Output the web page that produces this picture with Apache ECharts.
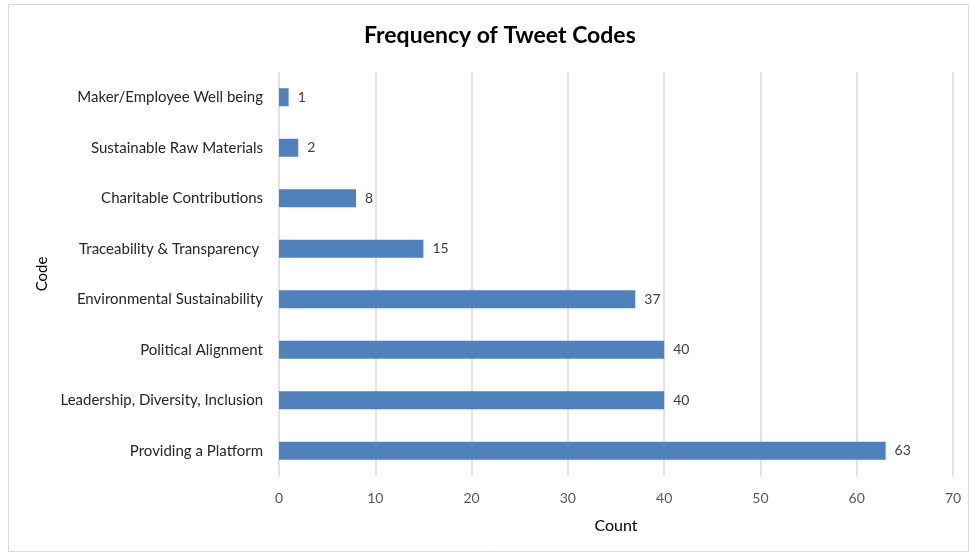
<!DOCTYPE html>
<html>
<head>
<meta charset="utf-8">
<script src="https://cdn.jsdelivr.net/npm/echarts@6/dist/echarts.min.js"></script>
<style>
  html, body { margin: 0; padding: 0; background: #fff; }
  #chart { width: 971px; height: 554px; }
</style>
</head>
<body>
<div id="chart"></div>
<script>
// Tweet code categories, listed bottom to top as drawn on the category axis
const categories = [
  'Providing a Platform',
  'Leadership, Diversity, Inclusion',
  'Political Alignment',
  'Environmental Sustainability',
  'Traceability & Transparency ',
  'Charitable Contributions',
  'Sustainable Raw Materials',
  'Maker/Employee Well being'
];
const counts = [63, 40, 40, 37, 15, 8, 2, 1];
const countTicks = [0, 10, 20, 30, 40, 50, 60, 70];

const FONT = 'Lato, "Open Sans", sans-serif';
const chart = echarts.init(document.getElementById('chart'));

chart.setOption({
  animation: false,
  title: {
    text: 'Frequency of Tweet Codes',
    left: 359,
    top: 19,
    textStyle: { fontFamily: FONT, fontSize: 23, fontWeight: 'bold', color: '#000' }
  },
  graphic: [{
    type: 'rect',
    shape: { x: 8.5, y: 4.5, width: 960, height: 547 },
    style: { fill: 'none', stroke: '#d9d9d9', lineWidth: 1 },
    silent: true
  }],
  grid: { left: 279, right: 18, top: 72, bottom: 78 },
  xAxis: {
    type: 'value',
    min: countTicks[0],
    max: countTicks[countTicks.length - 1],
    interval: 10,
    name: 'Count',
    nameLocation: 'middle',
    nameGap: 42,
    nameTextStyle: { fontFamily: FONT, fontSize: 16, color: '#000' },
    axisLine: { show: false },
    axisTick: { show: false },
    axisLabel: { fontFamily: FONT, fontSize: 14, color: '#595959', margin: 15 },
    splitLine: { show: true, lineStyle: { color: '#d9d9d9', width: 1.5 } }
  },
  yAxis: {
    type: 'category',
    data: categories,
    name: 'Code',
    nameLocation: 'middle',
    nameGap: 226,
    nameRotate: 90,
    nameTextStyle: { fontFamily: FONT, fontSize: 15, color: '#000' },
    axisLine: { show: false },
    axisTick: { show: false },
    axisLabel: { fontFamily: FONT, fontSize: 15, color: '#262626', margin: 16 }
  },
  series: [{
    type: 'bar',
    data: counts,
    barWidth: 18,
    itemStyle: { color: '#4f81bd' },
    label: {
      show: true,
      position: 'right',
      distance: 9,
      fontFamily: FONT,
      fontSize: 14,
      color: '#404040'
    }
  }]
});
</script>
</body>
</html>
